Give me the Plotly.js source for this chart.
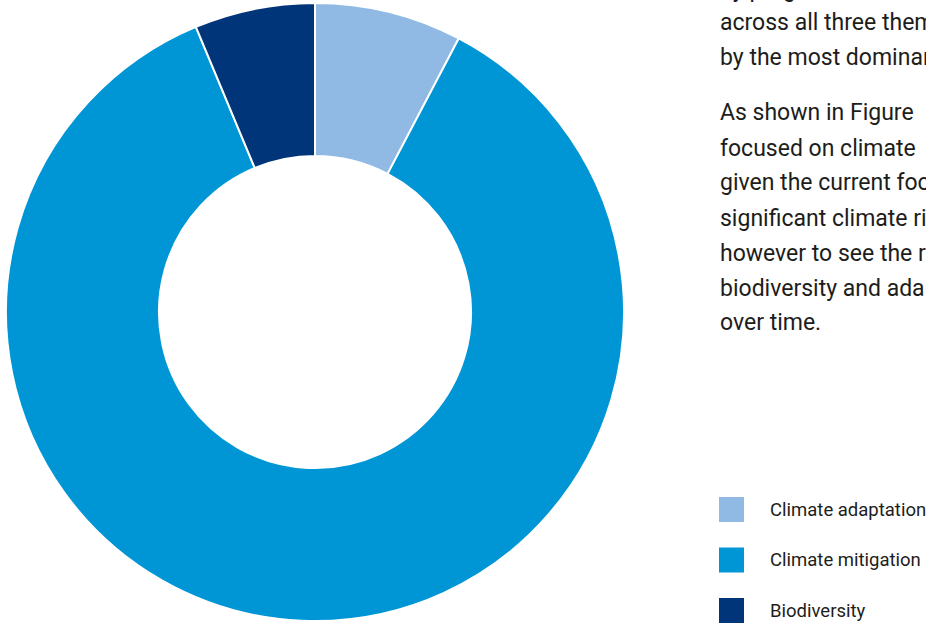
<!DOCTYPE html>
<html>
<head>
<meta charset="utf-8">
<script src="https://cdn.plot.ly/plotly-3.0.1.min.js"></script>
<style>
html,body{margin:0;padding:0;background:#fff;overflow:hidden;}
#chart{width:926px;height:625px;}
</style>
</head>
<body>
<div id="chart"></div>
<script>
// Data
const categories = ["Climate adaptation", "Climate mitigation", "Biodiversity"];
const shares = [7.7, 86.0, 6.3];
const sliceColors = ["#90BAE4", "#0096D6", "#00357A"];

const paragraphLines = [
  "by progress made",
  "across all three themes,",
  "by the most dominant",
  "",
  "As shown in Figure",
  "focused on climate",
  "given the current focus",
  "significant climate risk",
  "however to see the rise",
  "biodiversity and adaptation",
  "over time."
];
const paragraphY = [-10, 23, 58, null, 113, 148, 183, 218, 253, 288, 322];

const W = 926, H = 625;
const px = x => x / W;
const py = y => 1 - y / H;

const annotations = [];
paragraphLines.forEach((t, i) => {
  if (!t) return;
  annotations.push({
    text: t, xref: "paper", yref: "paper",
    x: px(718), y: py(paragraphY[i]),
    xanchor: "left", yanchor: "middle", align: "left",
    showarrow: false,
    font: {family: "Roboto", size: 23, color: "#1d1d1b"}
  });
});

const shapes = [];
categories.forEach((c, i) => {
  const top = 497 + i * 50.5;
  shapes.push({
    type: "rect", xref: "paper", yref: "paper",
    x0: px(719), x1: px(744), y0: py(top + 25), y1: py(top),
    fillcolor: sliceColors[i], line: {width: 0}
  });
  annotations.push({
    text: c, xref: "paper", yref: "paper",
    x: px(768), y: py(top + 12.5),
    xanchor: "left", yanchor: "middle", align: "left",
    showarrow: false,
    font: {family: "Roboto", size: 18.5, color: "#1d1d1b"}
  });
});

const trace = {
  type: "pie",
  labels: categories,
  values: shares,
  hole: 0.505,
  sort: false,
  direction: "clockwise",
  rotation: 0,
  textinfo: "none",
  hoverinfo: "label+percent",
  marker: {colors: sliceColors, line: {color: "#ffffff", width: 2}},
  domain: {x: [px(6), px(624)], y: [py(621), py(3)]},
  showlegend: false
};

const layout = {
  width: W, height: H,
  margin: {l: 0, r: 0, t: 0, b: 0},
  paper_bgcolor: "#ffffff",
  showlegend: false,
  annotations: annotations,
  shapes: shapes
};

Plotly.newPlot("chart", [trace], layout, {displayModeBar: false, staticPlot: true});
</script>
</body>
</html>
